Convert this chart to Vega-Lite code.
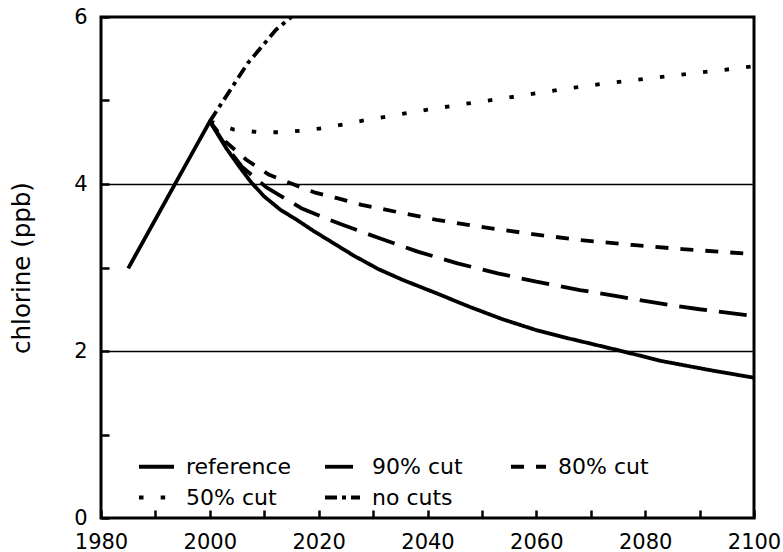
{
  "$schema": "https://vega.github.io/schema/vega-lite/v6.json",
  "width": 653,
  "height": 501,
  "autosize": {"type": "none"},
  "padding": {"left": 101, "top": 17, "right": 29, "bottom": 34},
  "background": "white",
  "config": {
    "view": {"stroke": "black", "strokeWidth": 3},
    "font": "DejaVu Sans"
  },
  "data": {
    "values": [
      {"scenario": "reference", "year": 1985, "chlorine": 2.99},
      {"scenario": "reference", "year": 2000, "chlorine": 4.75},
      {"scenario": "reference", "year": 2003, "chlorine": 4.43},
      {"scenario": "reference", "year": 2005.5, "chlorine": 4.2},
      {"scenario": "reference", "year": 2007.6, "chlorine": 4.02},
      {"scenario": "reference", "year": 2010, "chlorine": 3.85},
      {"scenario": "reference", "year": 2013, "chlorine": 3.69},
      {"scenario": "reference", "year": 2016, "chlorine": 3.57},
      {"scenario": "reference", "year": 2019, "chlorine": 3.44},
      {"scenario": "reference", "year": 2022.5, "chlorine": 3.3},
      {"scenario": "reference", "year": 2026.5, "chlorine": 3.14},
      {"scenario": "reference", "year": 2031, "chlorine": 2.98},
      {"scenario": "reference", "year": 2035.5, "chlorine": 2.85},
      {"scenario": "reference", "year": 2041.7, "chlorine": 2.69},
      {"scenario": "reference", "year": 2047.7, "chlorine": 2.53},
      {"scenario": "reference", "year": 2053.8, "chlorine": 2.38},
      {"scenario": "reference", "year": 2060, "chlorine": 2.25},
      {"scenario": "reference", "year": 2066, "chlorine": 2.15},
      {"scenario": "reference", "year": 2075, "chlorine": 2.01},
      {"scenario": "reference", "year": 2083, "chlorine": 1.88},
      {"scenario": "reference", "year": 2092, "chlorine": 1.77},
      {"scenario": "reference", "year": 2100, "chlorine": 1.68},

      {"scenario": "90% cut", "year": 2000, "chlorine": 4.75},
      {"scenario": "90% cut", "year": 2003, "chlorine": 4.45},
      {"scenario": "90% cut", "year": 2006, "chlorine": 4.2},
      {"scenario": "90% cut", "year": 2010.4, "chlorine": 3.96},
      {"scenario": "90% cut", "year": 2016.8, "chlorine": 3.71},
      {"scenario": "90% cut", "year": 2024, "chlorine": 3.52},
      {"scenario": "90% cut", "year": 2031.2, "chlorine": 3.35},
      {"scenario": "90% cut", "year": 2038.2, "chlorine": 3.19},
      {"scenario": "90% cut", "year": 2045.5, "chlorine": 3.05},
      {"scenario": "90% cut", "year": 2052.9, "chlorine": 2.93},
      {"scenario": "90% cut", "year": 2060, "chlorine": 2.83},
      {"scenario": "90% cut", "year": 2068, "chlorine": 2.73},
      {"scenario": "90% cut", "year": 2075.3, "chlorine": 2.65},
      {"scenario": "90% cut", "year": 2082.7, "chlorine": 2.57},
      {"scenario": "90% cut", "year": 2090, "chlorine": 2.5},
      {"scenario": "90% cut", "year": 2100, "chlorine": 2.42},

      {"scenario": "80% cut", "year": 2000, "chlorine": 4.75},
      {"scenario": "80% cut", "year": 2003, "chlorine": 4.5},
      {"scenario": "80% cut", "year": 2006.7, "chlorine": 4.29},
      {"scenario": "80% cut", "year": 2010.9, "chlorine": 4.11},
      {"scenario": "80% cut", "year": 2015.2, "chlorine": 4.0},
      {"scenario": "80% cut", "year": 2019.2, "chlorine": 3.9},
      {"scenario": "80% cut", "year": 2023.4, "chlorine": 3.83},
      {"scenario": "80% cut", "year": 2027.9, "chlorine": 3.75},
      {"scenario": "80% cut", "year": 2032.5, "chlorine": 3.69},
      {"scenario": "80% cut", "year": 2041.7, "chlorine": 3.57},
      {"scenario": "80% cut", "year": 2050.5, "chlorine": 3.48},
      {"scenario": "80% cut", "year": 2059.3, "chlorine": 3.4},
      {"scenario": "80% cut", "year": 2068, "chlorine": 3.33},
      {"scenario": "80% cut", "year": 2077.6, "chlorine": 3.27},
      {"scenario": "80% cut", "year": 2086.8, "chlorine": 3.22},
      {"scenario": "80% cut", "year": 2100, "chlorine": 3.16},

      {"scenario": "50% cut", "year": 2000, "chlorine": 4.75},
      {"scenario": "50% cut", "year": 2004.5, "chlorine": 4.65},
      {"scenario": "50% cut", "year": 2009, "chlorine": 4.62},
      {"scenario": "50% cut", "year": 2013, "chlorine": 4.62},
      {"scenario": "50% cut", "year": 2017, "chlorine": 4.64},
      {"scenario": "50% cut", "year": 2021, "chlorine": 4.67},
      {"scenario": "50% cut", "year": 2025, "chlorine": 4.72},
      {"scenario": "50% cut", "year": 2029, "chlorine": 4.77},
      {"scenario": "50% cut", "year": 2040, "chlorine": 4.89},
      {"scenario": "50% cut", "year": 2048, "chlorine": 4.97},
      {"scenario": "50% cut", "year": 2056.4, "chlorine": 5.05},
      {"scenario": "50% cut", "year": 2064.3, "chlorine": 5.13},
      {"scenario": "50% cut", "year": 2072.2, "chlorine": 5.2},
      {"scenario": "50% cut", "year": 2080.2, "chlorine": 5.26},
      {"scenario": "50% cut", "year": 2088.1, "chlorine": 5.32},
      {"scenario": "50% cut", "year": 2096.2, "chlorine": 5.38},
      {"scenario": "50% cut", "year": 2100, "chlorine": 5.41},

      {"scenario": "no cuts", "year": 2000, "chlorine": 4.75},
      {"scenario": "no cuts", "year": 2004, "chlorine": 5.15},
      {"scenario": "no cuts", "year": 2007, "chlorine": 5.45},
      {"scenario": "no cuts", "year": 2010, "chlorine": 5.68},
      {"scenario": "no cuts", "year": 2012.2, "chlorine": 5.85},
      {"scenario": "no cuts", "year": 2015, "chlorine": 6.0}
    ]
  },
  "mark": {
    "type": "line",
    "color": "black",
    "strokeWidth": 3.8,
    "strokeCap": "butt",
    "strokeJoin": "round",
    "clip": true
  },
  "encoding": {
    "x": {
      "field": "year",
      "type": "quantitative",
      "scale": {"domain": [1980, 2100], "nice": false, "zero": false},
      "axis": {
        "title": null,
        "values": [1980, 1990, 2000, 2010, 2020, 2030, 2040, 2050, 2060, 2070, 2080, 2090, 2100],
        "format": "d",
        "labelExpr": "datum.value % 20 === 0 ? datum.label : ''",
        "labelFlush": false,
        "labelOverlap": false,
        "domain": false,
        "grid": false,
        "ticks": true,
        "offset": -8,
        "tickSize": 8,
        "tickWidth": 2.5,
        "tickColor": "black",
        "labelFont": "DejaVu Sans",
        "labelFontSize": 21,
        "labelColor": "black",
        "labelPadding": 13
      }
    },
    "y": {
      "field": "chlorine",
      "type": "quantitative",
      "scale": {"domain": [0, 6], "nice": false},
      "axis": {
        "title": "chlorine (ppb)",
        "titleFont": "DejaVu Sans",
        "titleFontSize": 24.5,
        "titleFontWeight": "normal",
        "titleColor": "black",
        "titlePadding": 39,
        "values": [0, 1, 2, 3, 4, 5, 6],
        "labelExpr": "datum.value % 2 === 0 ? datum.label : ''",
        "labelFlush": false,
        "labelOverlap": false,
        "domain": false,
        "ticks": true,
        "offset": -8,
        "tickSize": 8,
        "tickWidth": 2.5,
        "tickColor": "black",
        "grid": true,
        "gridColor": "black",
        "gridWidth": 1.3,
        "gridOpacity": {"condition": {"test": "datum.value === 2 || datum.value === 4", "value": 1}, "value": 0},
        "labelFont": "DejaVu Sans",
        "labelFontSize": 21,
        "labelColor": "black",
        "labelPadding": 14
      }
    },
    "strokeDash": {
      "field": "scenario",
      "type": "nominal",
      "scale": {
        "domain": ["reference", "90% cut", "80% cut", "50% cut", "no cuts"],
        "range": [[1, 0], [28, 12], [13, 12], [4.5, 17.2], [12, 5, 4, 5]]
      },
      "legend": {
        "orient": "none",
        "legendX": 36,
        "legendY": 430,
        "direction": "horizontal",
        "columns": 3,
        "gridAlign": "all",
        "title": null,
        "padding": 0,
        "symbolType": "stroke",
        "symbolSize": 1225,
        "symbolStrokeWidth": 3.8,
        "symbolStrokeColor": "black",
        "labelFont": "DejaVu Sans",
        "labelFontSize": 22,
        "labelColor": "black",
        "labelLimit": 300,
        "labelOffset": 10,
        "columnPadding": 25,
        "rowPadding": 0
      }
    }
  }
}
